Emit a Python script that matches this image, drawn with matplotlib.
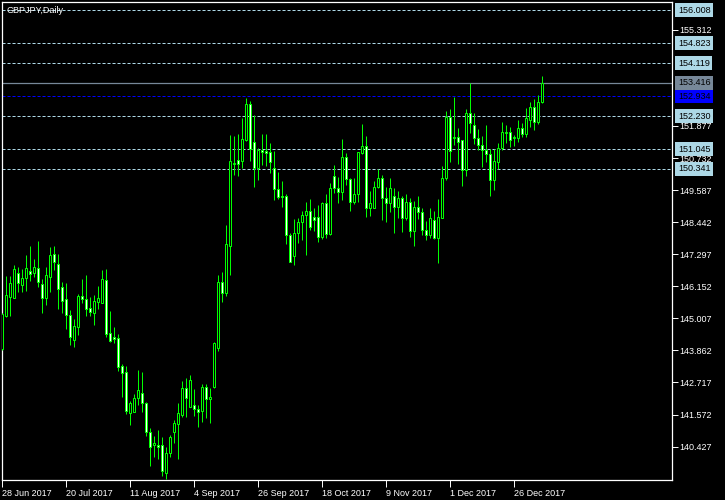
import matplotlib
matplotlib.use('Agg')
import matplotlib.pyplot as plt
from matplotlib.patches import Rectangle

# GBPJPY daily candles (28 Jun 2017 .. early Jan 2018)
opens = [143.90, 145.09, 145.78, 145.74, 146.61, 146.20, 146.44, 146.70, 146.64, 146.79,
         146.22, 145.72, 146.49, 147.30, 146.94, 146.12, 145.69, 145.11, 144.23, 144.71,
         145.80, 145.69, 145.37, 145.21, 145.60, 145.57, 146.38, 144.47, 144.33, 144.29,
         143.30, 143.09, 141.64, 141.67, 142.15, 142.33, 141.99, 140.96, 140.48, 140.48,
         140.47, 139.47, 140.19, 140.96, 141.22, 141.55, 142.51, 141.83, 141.90, 141.76,
         141.71, 142.54, 142.11, 142.57, 143.94, 146.29, 145.91, 147.60, 150.52, 150.66,
         150.63, 151.38, 152.66, 151.32, 150.39, 151.02, 150.98, 150.94, 150.39, 149.63,
         149.38, 149.38, 147.98, 147.24, 148.04, 148.44, 148.70, 148.84, 148.63, 148.63,
         147.92, 149.12, 148.01, 150.10, 149.67, 149.51, 150.76, 149.98, 149.15, 149.44,
         150.90, 151.17, 148.94, 148.96, 149.71, 150.03, 149.29, 149.12, 149.39, 148.99,
         149.32, 148.60, 149.15, 148.13, 148.99, 148.79, 148.16, 147.98, 148.52, 147.89,
         148.60, 150.03, 152.21, 151.46, 151.49, 151.38, 150.30, 152.33, 151.91, 151.46,
         151.20, 151.02, 150.87, 149.95, 150.58, 151.08, 151.61, 151.65, 151.44, 151.46,
         151.79, 151.58, 152.09, 152.57, 152.01, 152.74]
highs = [145.20, 146.52, 146.52, 146.91, 146.83, 146.76, 147.27, 147.59, 147.12, 147.77,
         146.40, 146.83, 147.54, 147.59, 147.30, 146.30, 146.26, 145.30, 144.97, 145.88,
         146.40, 146.55, 145.78, 145.83, 146.16, 146.73, 146.76, 145.28, 144.71, 144.45,
         143.38, 143.30, 142.07, 142.30, 143.16, 143.09, 142.02, 141.08, 140.80, 141.02,
         140.76, 140.40, 140.84, 141.38, 141.97, 142.78, 142.87, 142.98, 142.47, 141.91,
         142.66, 142.66, 142.51, 144.15, 146.55, 146.65, 148.34, 151.55, 151.53, 151.58,
         152.17, 152.89, 152.77, 152.27, 151.08, 151.59, 151.59, 151.26, 150.98, 150.22,
         149.91, 149.44, 148.04, 148.55, 148.60, 148.84, 149.17, 149.27, 148.94, 149.05,
         149.15, 149.44, 149.83, 150.48, 150.07, 151.41, 150.90, 150.03, 150.01, 150.96,
         151.95, 151.52, 149.55, 149.91, 150.34, 150.13, 149.71, 150.01, 149.67, 149.55,
         149.39, 149.44, 149.29, 149.20, 149.39, 148.96, 148.48, 148.96, 148.84, 149.27,
         150.45, 152.41, 152.48, 152.92, 151.82, 151.38, 152.48, 153.40, 152.33, 151.77,
         151.53, 151.91, 151.05, 151.05, 151.26, 152.03, 151.91, 151.85, 151.55, 152.09,
         151.97, 152.51, 152.72, 152.84, 152.98, 153.66]
lows = [143.88, 145.04, 145.09, 145.74, 145.96, 145.96, 145.99, 146.34, 146.49, 146.14,
        145.21, 145.48, 145.96, 146.73, 145.35, 145.21, 144.64, 144.04, 143.99, 144.40,
        145.57, 145.09, 145.09, 144.77, 145.35, 145.57, 144.35, 144.17, 144.11, 143.14,
        142.21, 141.59, 141.19, 141.67, 141.91, 141.67, 140.80, 139.74, 140.07, 139.98,
        139.39, 139.27, 140.07, 140.54, 139.97, 141.49, 141.49, 141.83, 141.53, 141.14,
        141.32, 141.44, 141.28, 142.51, 143.85, 145.60, 145.80, 146.55, 150.13, 150.10,
        150.39, 151.34, 150.63, 149.71, 149.95, 150.48, 150.46, 150.19, 149.23, 149.27,
        148.99, 147.65, 147.03, 146.91, 147.69, 147.80, 147.27, 148.16, 148.13, 147.74,
        147.84, 147.89, 147.98, 149.47, 149.12, 149.23, 149.77, 148.84, 149.08, 149.17,
        150.87, 148.64, 148.67, 148.96, 149.67, 148.52, 148.44, 148.82, 148.04, 148.60,
        148.08, 148.52, 147.92, 147.60, 148.55, 147.98, 147.80, 147.89, 147.84, 146.97,
        148.58, 149.95, 150.58, 151.20, 150.51, 149.74, 150.10, 151.62, 151.22, 151.02,
        150.42, 150.58, 149.39, 149.59, 150.34, 151.02, 151.26, 151.14, 151.17, 151.31,
        151.49, 151.49, 151.85, 151.73, 151.94, 152.70]
closes = [145.15, 145.83, 146.26, 146.76, 146.28, 146.44, 146.79, 146.60, 146.83, 146.32,
          145.72, 146.55, 147.26, 147.01, 146.07, 145.64, 145.11, 144.33, 144.73, 145.80,
          145.69, 145.35, 145.24, 145.64, 145.72, 146.40, 144.45, 144.21, 144.26, 143.28,
          143.07, 141.71, 141.97, 142.15, 142.45, 141.97, 140.96, 140.40, 140.57, 140.42,
          139.54, 140.19, 140.76, 141.26, 141.64, 142.51, 142.15, 142.80, 141.76, 141.67,
          142.57, 142.11, 142.19, 144.11, 146.29, 145.90, 147.65, 150.63, 150.55, 150.52,
          151.41, 152.66, 151.05, 150.39, 151.02, 150.96, 150.92, 150.58, 149.63, 149.35,
          149.35, 147.98, 147.03, 148.04, 148.46, 148.70, 148.84, 148.28, 148.53, 147.92,
          149.12, 148.01, 149.65, 149.67, 149.51, 150.76, 149.98, 149.17, 149.44, 150.94,
          151.17, 148.94, 149.12, 149.71, 150.03, 149.29, 149.12, 149.67, 148.99, 149.32,
          148.60, 149.15, 148.13, 148.99, 148.79, 148.16, 147.98, 148.58, 147.89, 148.64,
          150.03, 152.21, 150.98, 151.49, 151.29, 150.30, 152.33, 151.97, 151.44, 151.20,
          151.02, 150.87, 149.95, 150.63, 151.08, 151.65, 151.65, 151.38, 151.49, 151.79,
          151.58, 152.15, 152.57, 152.01, 152.74, 153.416]

date_labels = ['28 Jun 2017', '20 Jul 2017', '11 Aug 2017', '4 Sep 2017', '26 Sep 2017',
               '18 Oct 2017', '9 Nov 2017', '1 Dec 2017', '26 Dec 2017']
date_bars = [0, 16, 32, 48, 64, 80, 96, 112, 128]

grid_prices = [155.312, 151.877, 150.732, 149.587, 148.442, 147.297, 146.152,
               145.007, 143.862, 142.717, 141.572, 140.427]
hline_prices = [156.008, 154.823, 154.119, 152.230, 151.045, 150.341]
blue_price = 152.934
bid_price = 153.416

# Constants
W, H = 725, 500
PLOT_LEFT, PLOT_RIGHT, PLOT_TOP, PLOT_BOTTOM = 2, 672, 2, 479.5
BAR_PX = 4
Y_TOP, Y_BOTTOM = 156.304, 139.251
GREEN = '#00FF00'
LIGHTBLUE = '#ADD8E6'
FONT = 'Liberation Sans'
FS = 6.5


def draw_candles(ax):
    for i, (o, h, l, c) in enumerate(zip(opens, highs, lows, closes)):
        ax.vlines(i, l, h, color=GREEN, lw=0.72, zorder=3)
        fill = 'black' if c > o else 'white'
        ax.add_patch(Rectangle((i - 0.25, min(o, c)), 0.5, abs(c - o),
                               facecolor=fill, edgecolor=GREEN, lw=0.72, zorder=4))


def draw_levels(ax):
    for p in hline_prices:
        ax.axhline(p, color=LIGHTBLUE, lw=0.72, dashes=(2.2, 1.4), zorder=2)
    ax.axhline(blue_price, color='#0000FF', lw=0.72, dashes=(2.2, 1.4), zorder=2)
    ax.axhline(bid_price, color='#778899', lw=0.9, zorder=2)

    # price boxes on the right scale
    tx = (PLOT_RIGHT + 6 - PLOT_LEFT) / (PLOT_RIGHT - PLOT_LEFT)
    trans = ax.get_yaxis_transform()
    boxes = [(p, LIGHTBLUE) for p in hline_prices] + [(blue_price, '#0000FF'), (bid_price, '#778899')]
    for p, col in boxes:
        ax.text(tx, p, f'{p:.3f}', transform=trans, ha='left', va='center',
                fontsize=FS, family=FONT, color='black', clip_on=False, zorder=10,
                bbox=dict(boxstyle='square,pad=0.28', fc=col, ec='none'))


def main():
    plt.rcParams['lines.scale_dashes'] = False
    fig = plt.figure(figsize=(W / 100, H / 100), dpi=100, facecolor='black')
    ax = fig.add_axes([PLOT_LEFT / W, (H - PLOT_BOTTOM) / H,
                       (PLOT_RIGHT - PLOT_LEFT) / W, (PLOT_BOTTOM - PLOT_TOP) / H])
    ax.set_facecolor('black')

    n_visible = (PLOT_RIGHT - PLOT_LEFT) / BAR_PX
    ax.set_xlim(-0.1, n_visible - 0.1)
    ax.set_ylim(Y_BOTTOM, Y_TOP)

    draw_candles(ax)
    draw_levels(ax)

    for s in ax.spines.values():
        s.set_color('white')
        s.set_linewidth(0.9)

    ax.yaxis.tick_right()
    ax.set_yticks(grid_prices)
    ax.set_yticklabels([f'{p:.3f}' for p in grid_prices], family=FONT, fontsize=FS)
    ax.tick_params(axis='y', colors='white', length=4, width=0.7, pad=1.5)

    ax.set_xticks(date_bars)
    ax.set_xticklabels(date_labels, family=FONT, fontsize=FS, ha='left')
    ax.tick_params(axis='x', colors='white', length=5, width=0.7, pad=1.5)

    ax.text(0.006, 0.983, 'GBPJPY,Daily', transform=ax.transAxes, color='white',
            fontsize=FS, family=FONT, ha='left', va='center')

    fig.savefig('out.png', dpi=100, facecolor='black')


if __name__ == "__main__":
    main()
